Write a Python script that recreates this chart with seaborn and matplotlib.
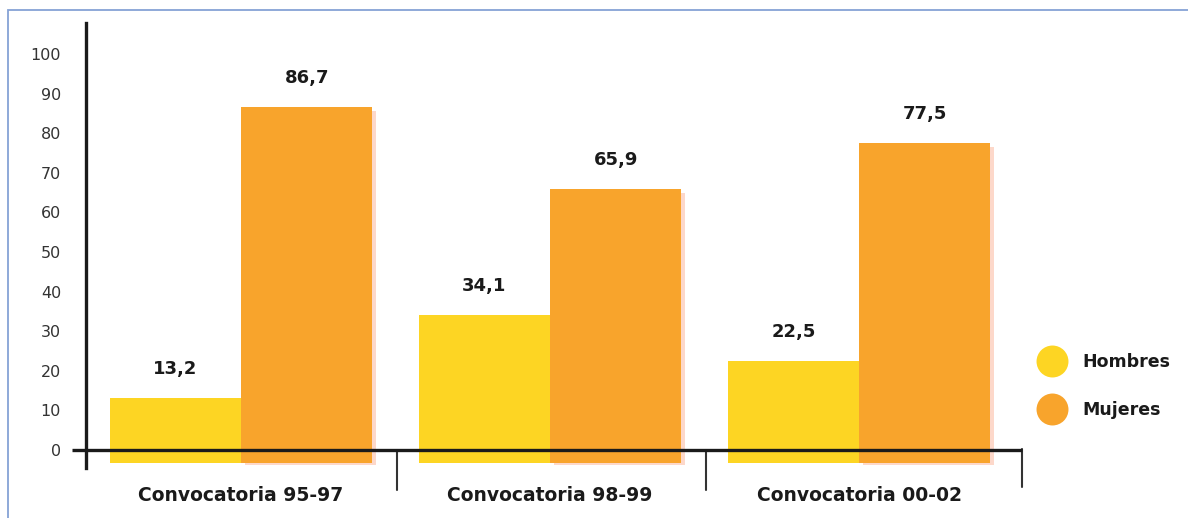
import matplotlib
matplotlib.use("Agg")
import matplotlib.pyplot as plt
from matplotlib.lines import Line2D
from matplotlib.patches import Rectangle
import pandas as pd
import seaborn as sns

# Data
convocatorias = ["Convocatoria 95-97", "Convocatoria 98-99", "Convocatoria 00-02"]
hombres = [13.2, 34.1, 22.5]
mujeres = [86.7, 65.9, 77.5]
series = ["Hombres", "Mujeres"]
y_ticks = list(range(0, 101, 10))

colors = {"Hombres": "#FDD523", "Mujeres": "#F8A42C"}
shadow_color = "#FDD8CA"
ink = "#1a1a1a"

df = pd.DataFrame({
    "convocatoria": convocatorias * 2,
    "sexo": ["Hombres"] * len(hombres) + ["Mujeres"] * len(mujeres),
    "pct": hombres + mujeres,
})

sns.set_theme(style="white")
plt.rcParams["font.family"] = ["DejaVu Sans"]

fig = plt.figure(figsize=(11.88, 5.18), dpi=100)
ax = fig.add_axes([0.0724, 0.0969, 0.788, 0.8587])

sns.barplot(data=df, x="convocatoria", y="pct", hue="sexo", hue_order=series,
            palette=colors, width=0.85, saturation=1, linewidth=0,
            legend=False, errorbar=None, ax=ax)

ax.set_xlim(-0.502, 2.528)
ax.set_ylim(-4.5, 107.8)

# bars sink slightly below the baseline
base = -3.2
for container in ax.containers:
    for p in container:
        top = p.get_y() + p.get_height()
        p.set_y(base)
        p.set_height(top - base)

# soft pink shadow along the right/bottom of the orange bars
for p in ax.containers[1]:
    ax.add_patch(Rectangle((p.get_x() + 0.012, p.get_y() - 0.5),
                           p.get_width(), p.get_height() - 0.6,
                           facecolor=shadow_color, edgecolor="none", zorder=0.5))

# value labels
for container, vals in zip(ax.containers, [hombres, mujeres]):
    for p, v in zip(container, vals):
        ax.text(p.get_x() + p.get_width() / 2, v + 7.2, f"{v:.1f}".replace(".", ","),
                ha="center", va="center", fontsize=13, fontweight="bold", color=ink)

# axes styling
for s in ["top", "right", "bottom"]:
    ax.spines[s].set_visible(False)
ax.spines["left"].set_linewidth(2.4)
ax.spines["left"].set_color(ink)

ax.set_yticks(y_ticks)
ax.set_yticklabels([str(t) for t in y_ticks])
ax.tick_params(axis="y", length=0, pad=18, labelsize=11.5, labelcolor="#333333")
ax.tick_params(axis="x", length=0, pad=13, labelsize=13.5)
for lbl in ax.get_xticklabels():
    lbl.set_fontweight("bold")
    lbl.set_color(ink)
ax.set_xlabel("")
ax.set_ylabel("")

# baseline and category separators
xmax = ax.get_xlim()[1]
ax.plot([-0.548, xmax], [0, 0], color=ink, lw=2.4, clip_on=False, zorder=3,
        solid_capstyle="butt")
for i in range(1, len(convocatorias)):
    ax.plot([i - 0.495, i - 0.495], [0, -10.2], color="#333333", lw=1.5, clip_on=False)
ax.plot([xmax, xmax], [0.25, -9.4], color="#333333", lw=1.5, clip_on=False)

# legend
handles = [Line2D([], [], linestyle="none", marker="o", markersize=23,
                  markerfacecolor=colors[s], markeredgecolor="none") for s in series]
leg = fig.legend(handles, series, loc="center left",
                 bbox_to_anchor=(1019 / 1188, 1 - 386 / 518), frameon=False,
                 labelspacing=1.75, handletextpad=0.75, fontsize=12.5)
for t in leg.get_texts():
    t.set_fontweight("bold")
    t.set_color(ink)

# thin blue frame
fig.patches.append(Rectangle((8 / 1188, -0.1), 1.2, 1 - 10 / 518 + 0.1,
                             transform=fig.transFigure, fill=False,
                             edgecolor="#86A2D6", lw=1.3))

fig.savefig("out.png", dpi=100)
